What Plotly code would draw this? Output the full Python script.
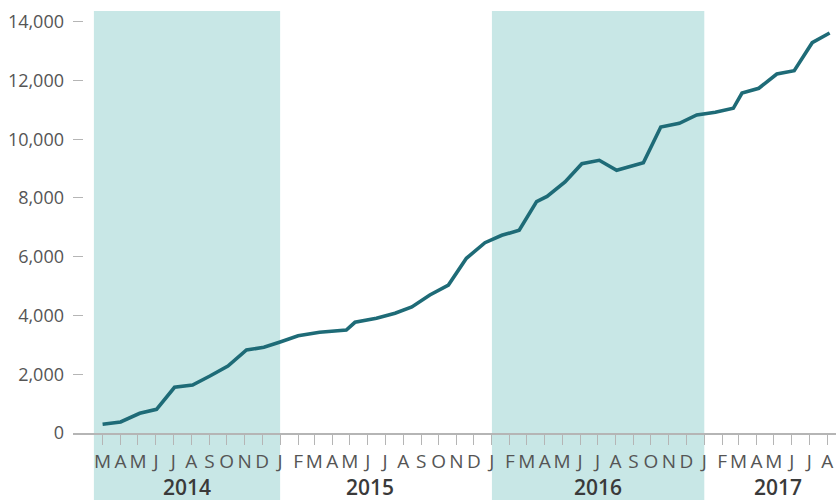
import plotly.graph_objects as go

dates = ["2014-03-01","2014-04-01","2014-05-04","2014-06-02","2014-07-03","2014-08-03",
         "2014-09-02","2014-10-03","2014-11-04","2014-12-04","2015-01-01","2015-02-01",
         "2015-03-10","2015-04-25","2015-05-10","2015-06-16","2015-07-18","2015-08-16",
         "2015-09-16","2015-10-18","2015-11-18","2015-12-20","2016-01-18","2016-02-17",
         "2016-03-18","2016-04-05","2016-05-06","2016-06-04","2016-07-04","2016-08-03",
         "2016-09-18","2016-10-18","2016-11-19","2016-12-19","2017-01-20","2017-02-20",
         "2017-03-07","2017-04-05","2017-05-06","2017-06-05","2017-07-06","2017-08-05"]
values = [296, 374, 670, 806, 1555, 1634,
          1940, 2280, 2825, 2917, 3097, 3308,
          3427, 3506, 3768, 3904, 4074, 4289,
          4697, 5037, 5946, 6477, 6729, 6899,
          7873, 8050, 8543, 9166, 9282, 8941,
          9200, 10415, 10541, 10824, 10916, 11052,
          11572, 11733, 12219, 12331, 13284, 13615]

month_ticks = ["2014-03-01","2014-04-01","2014-05-01","2014-06-01","2014-07-01","2014-08-01",
               "2014-09-01","2014-10-01","2014-11-01","2014-12-01",
               "2015-01-01","2015-02-01","2015-03-01","2015-04-01","2015-05-01","2015-06-01",
               "2015-07-01","2015-08-01","2015-09-01","2015-10-01","2015-11-01","2015-12-01",
               "2016-01-01","2016-02-01","2016-03-01","2016-04-01","2016-05-01","2016-06-01",
               "2016-07-01","2016-08-01","2016-09-01","2016-10-01","2016-11-01","2016-12-01",
               "2017-01-01","2017-02-01","2017-03-01","2017-04-01","2017-05-01","2017-06-01",
               "2017-07-01","2017-08-01"]
month_labels = list("MAMJJASOND") + list("JFMAMJJASOND") + list("JFMAMJJASOND") + list("JFMAMJJA")

year_labels = ["2014", "2015", "2016", "2017"]
year_label_dates = ["2014-07-24", "2015-06-05", "2016-07-02", "2017-05-08"]

bands = [("2014-02-14", "2015-01-01"), ("2016-01-01", "2017-01-01")]

y_ticks = [0, 2000, 4000, 6000, 8000, 10000, 12000, 14000]

fig = go.Figure()
fig.add_trace(go.Scatter(x=dates, y=values, mode="lines",
                         line=dict(color="#1e6b77", width=3.6),
                         hoverinfo="skip", cliponaxis=False))

for x0, x1 in bands:
    fig.add_shape(type="rect", xref="x", yref="paper", x0=x0, x1=x1, y0=-0.2, y1=1,
                  fillcolor="#c8e7e6", line=dict(width=0), layer="below")

for lab, d in zip(year_labels, year_label_dates):
    fig.add_annotation(x=d, xref="x", y=-0.128, yref="paper", text=lab, showarrow=False,
                       font=dict(family="Open Sans", size=21, color="#3a3a3a", weight=600),
                       xanchor="center", yanchor="middle")

fig.update_layout(
    width=836, height=500,
    margin=dict(l=73, r=0, t=11, b=67, autoexpand=False),
    paper_bgcolor="white", plot_bgcolor="rgba(0,0,0,0)",
    showlegend=False,
    xaxis=dict(type="date", range=["2014-01-09", "2017-08-16"], automargin=False,
               tickmode="array", tickvals=month_ticks, ticktext=month_labels,
               ticks="outside", ticklen=10, tickcolor="#b5b5b5", tickwidth=1.3,
               showline=True, linecolor="#b5b5b5", linewidth=1.5,
               showgrid=False, zeroline=False,
               tickfont=dict(family="Open Sans", size=19, color="#555555")),
    yaxis=dict(range=[0, 14363], tickvals=y_ticks, automargin=False,
               tickformat=",d", ticklabelstandoff=8,
               ticks="inside", ticklen=10, tickcolor="#b5b5b5", tickwidth=1.3,
               showline=False, showgrid=False, zeroline=False,
               tickfont=dict(family="Open Sans", size=18, color="#555555")),
)

fig.write_html("out.html", config={"displayModeBar": False},
               post_script="document.body.style.margin='0';")
